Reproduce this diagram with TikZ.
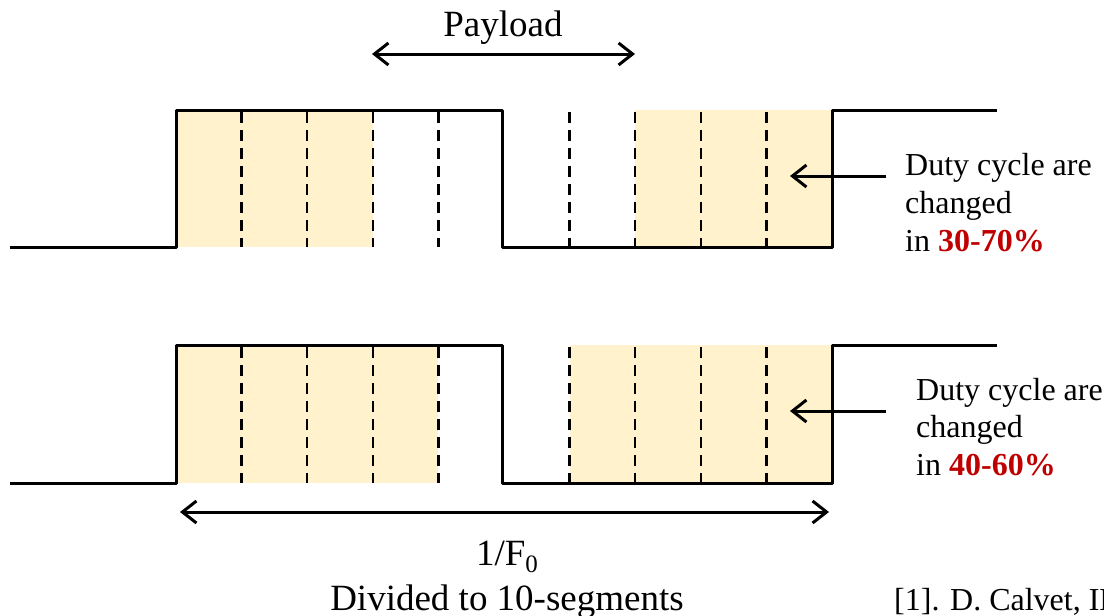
\documentclass[tikz,border=0pt]{standalone}
\usepackage{fontspec}
\setmainfont{Liberation Serif}
\usetikzlibrary{arrows.meta}
\definecolor{segfill}{HTML}{FFF2CC}
\definecolor{pctred}{HTML}{C00000}
\begin{document}
\begin{tikzpicture}[x=1pt,y=-1pt,
  wave/.style={line width=3pt, line join=round},
  segline/.style={line width=2.4pt, dash pattern=on 11pt off 7pt},
  shade/.style={fill=segfill, draw=none},
  barb/.style={line width=3pt, arrows={-Straight Barb[length=14pt,width=22pt]}},
  dbarb/.style={line width=3pt, arrows={Straight Barb[length=14pt,width=22pt]-Straight Barb[length=14pt,width=22pt]}},
  bigtxt/.style={font=\fontsize{37}{44}\selectfont, inner sep=0pt, anchor=base},
  duty/.style={font=\fontsize{32}{38}\selectfont, inner sep=0pt, anchor=base west}
]
\useasboundingbox (0,0) rectangle (1104,616);
\clip (0,0) rectangle (1104,616);
\fill[white] (0,0) rectangle (1104,616);

% ---------- top waveform (30-70%) ----------
\fill[shade] (176,110) rectangle (372.8,247);
\fill[shade] (635.2,110) rectangle (832,247);
\foreach \x in {241.6,307.2,372.8,438.4,569.6,635.2,700.8,766.4}
  \draw[segline] (\x,112) -- (\x,247);
\draw[wave] (10,247) -- (176,247) -- (176,110) -- (502,110) -- (502,247)
  -- (832,247) -- (832,110) -- (997,110);

% ---------- bottom waveform (40-60%) ----------
\fill[shade] (176,345) rectangle (438.4,483);
\fill[shade] (569.6,345) rectangle (832,483);
\foreach \x in {241.6,307.2,372.8,438.4,569.6,635.2,700.8,766.4}
  \draw[segline] (\x,347) -- (\x,483);
\draw[wave] (10,483) -- (176,483) -- (176,345) -- (502,345) -- (502,483)
  -- (832,483) -- (832,345) -- (997,345);

% ---------- payload ----------
\node[bigtxt] (payload) at (503,36) {Payload};
\coordinate (payL) at (372,54);
\coordinate (payR) at (635,54);
\draw[dbarb] (payL) -- (payR);

% ---------- duty cycle notes ----------
\node[duty] (dutyA1) at (905,175) {Duty cycle are};
\node[duty] (dutyA2) at (905,213) {changed};
\node[duty] (dutyA3) at (905,251) {in \textcolor{pctred}{\bfseries 30-70\%}};
\coordinate (arrA0) at (886,176);
\coordinate (arrA1) at (790,176);
\draw[barb] (arrA0) -- (arrA1);

\node[duty] (dutyB1) at (916,400) {Duty cycle are};
\node[duty] (dutyB2) at (916,437) {changed};
\node[duty] (dutyB3) at (916,475) {in \textcolor{pctred}{\bfseries 40-60\%}};
\coordinate (arrB0) at (886,411);
\coordinate (arrB1) at (790,411);
\draw[barb] (arrB0) -- (arrB1);

% ---------- period ----------
\coordinate (perL) at (180,512);
\coordinate (perR) at (829,512);
\draw[dbarb] (perL) -- (perR);
\node[bigtxt] (period) at (507,565) {1/F\raisebox{-7pt}{\fontsize{25}{25}\selectfont 0}};
\node[bigtxt] (divided) at (507,610) {Divided to 10-segments};

% ---------- reference ----------
\node[duty] (cite) at (894,610) {[1]. D. Calvet, IEEE};
\end{tikzpicture}
\end{document}
